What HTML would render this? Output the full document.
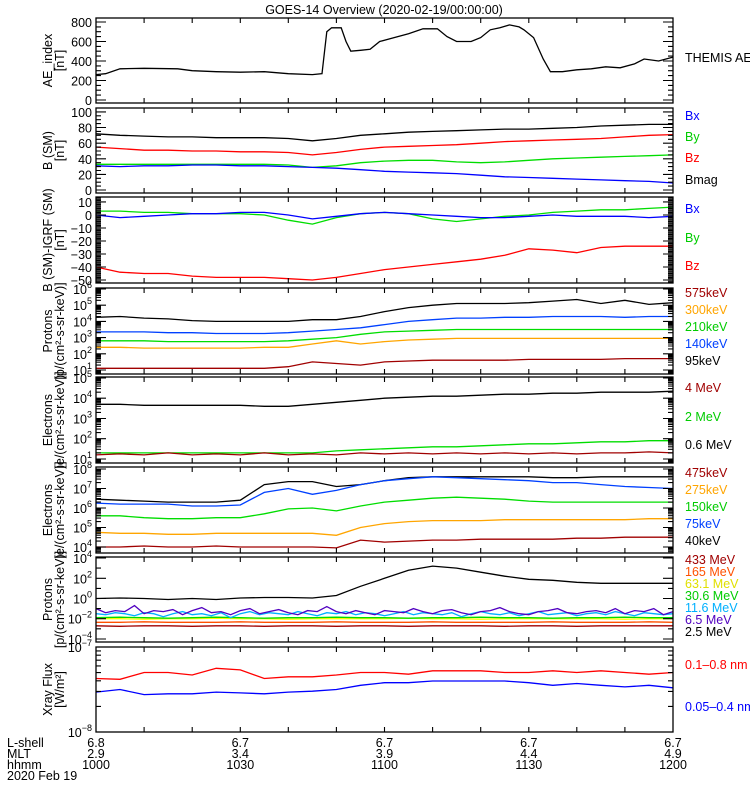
<!DOCTYPE html>
<html><head><meta charset="utf-8">
<style>
html,body{margin:0;padding:0;background:#fff;}
svg{display:block;font-family:"Liberation Sans",sans-serif;}
text{font-size:12.5px;}
</style></head>
<body>
<svg id="chart" width="750" height="800" viewBox="0 0 750 800" xmlns="http://www.w3.org/2000/svg">
<text x="384" y="14" text-anchor="middle" font-size="13">GOES-14 Overview (2020-02-19/00:00:00)</text>
<g>
<text x="7" y="747">L-shell</text><text x="7" y="758">MLT</text><text x="7" y="769">hhmm</text><text x="7" y="780">2020 Feb 19</text>
</g>
</svg>
<script>
// ---- time axis data ----
const xTickTimes = [0, 30, 60, 90, 120];
const lshellLabels = ["6.8", "6.7", "6.7", "6.7", "6.7"];
const mltLabels = ["2.9", "3.4", "3.9", "4.4", "4.9"];
const hhmmLabels = ["1000", "1030", "1100", "1130", "1200"];
const grid5 = [0,5,10,15,20,25,30,35,40,45,50,55,60,65,70,75,80,85,90,95,100,105,110,115,120];
const grid2 = [0,2,4,6,8,10,12,14,16,18,20,22,24,26,28,30,32,34,36,38,40,42,44,46,48,50,52,54,56,58,60,62,64,66,68,70,72,74,76,78,80,82,84,86,88,90,92,94,96,98,100,102,104,106,108,110,112,114,116,118,120];

// Panel 1: AE index
const aeTimes = [0,2,5,10,17,20,25,30,35,40,45,47,48,49,51,52,53,55,57,59,62,65,68,71,73,75,78,80,82,84,86,88,89,91,93,94.5,97,100,103,106,109,112,114,117,120];
const aeValues = [260,270,320,325,320,300,290,285,290,270,260,270,700,740,740,600,500,510,520,600,640,680,730,730,650,600,600,640,720,740,770,750,720,640,420,290,290,310,320,340,330,370,420,400,440];

// Panel 2: B (SM)
const bmag = [72,70,69,68,68,67,67,67,66,63,66,70,72,74,75,76,77,78,78,79,80,82,83,84,84];
const bz2 = [55,53,51,51,50,50,49,49,48,45,48,52,55,56,57,58,60,62,63,64,65,66,68,70,71];
const by2 = [33,33,33,33,33,33,33,33,32,29,31,35,37,38,38,36,35,36,38,40,41,42,43,44,45];
const bx2 = [31,30,31,31,32,32,31,31,30,29,28,26,24,23,22,21,19,17,16,15,14,13,12,11,9];

// Panel 3: B (SM) - IGRF
const by3 = [3,3,2,2,1,1,1,0,-4,-7,-2,1,2,1,-3,-5,-3,-1,0,2,3,4,4,5,6];
const bx3 = [0,-2,-1,0,1,1,2,2,0,-3,-1,1,2,1,0,-1,-2,-2,-1,0,-1,-1,-1,-2,-1];
const bz3 = [-40,-44,-45,-45,-47,-48,-48,-48,-49,-50,-48,-45,-42,-40,-38,-36,-34,-31,-26,-27,-29,-25,-24,-24,-24];

// Panel 4: protons (log10)
const p95 = [4.25,4.3,4.2,4.15,4.05,4.0,4.0,4.0,4.0,4.1,4.1,4.3,4.6,4.85,5.0,5.1,5.1,5.1,5.15,5.25,5.35,5.1,5.3,5.05,5.15];
const p140 = [3.35,3.35,3.35,3.3,3.3,3.25,3.25,3.25,3.3,3.4,3.5,3.6,3.8,4.0,4.1,4.2,4.2,4.25,4.25,4.3,4.3,4.3,4.25,4.3,4.3];
const p210 = [2.8,2.8,2.8,2.75,2.75,2.75,2.75,2.75,2.8,2.9,3.0,3.2,3.35,3.4,3.45,3.5,3.5,3.5,3.5,3.5,3.5,3.5,3.5,3.5,3.5];
const p300 = [2.4,2.4,2.35,2.35,2.35,2.35,2.35,2.4,2.4,2.6,2.8,2.6,2.75,2.85,2.9,2.95,2.95,2.95,2.95,2.95,2.95,2.95,2.95,2.95,2.95];
const p575 = [1.1,1.1,1.1,1.1,1.1,1.1,1.1,1.1,1.2,1.5,1.4,1.3,1.5,1.55,1.6,1.6,1.6,1.6,1.65,1.65,1.65,1.65,1.7,1.7,1.7];

// Panel 5: electrons MeV (log10)
const e06 = [3.7,3.7,3.65,3.65,3.65,3.65,3.65,3.6,3.6,3.7,3.8,3.9,4.0,4.05,4.1,4.1,4.15,4.2,4.2,4.25,4.25,4.3,4.3,4.3,4.35];
const e2 = [1.3,1.3,1.3,1.3,1.3,1.3,1.3,1.3,1.3,1.3,1.4,1.45,1.5,1.55,1.6,1.6,1.65,1.7,1.75,1.75,1.8,1.85,1.85,1.9,1.9];
const e4 = [1.2,1.25,1.2,1.3,1.2,1.25,1.2,1.3,1.2,1.25,1.2,1.3,1.25,1.3,1.25,1.3,1.25,1.3,1.25,1.3,1.25,1.3,1.3,1.35,1.3];

// Panel 6: electrons keV (log10)
const e40 = [6.45,6.4,6.35,6.3,6.3,6.3,6.4,7.2,7.35,7.35,7.1,7.2,7.4,7.55,7.6,7.6,7.6,7.6,7.6,7.55,7.55,7.6,7.6,7.6,7.6];
const e75 = [6.25,6.2,6.2,6.2,6.1,6.1,6.15,6.8,7.0,6.7,6.9,7.2,7.4,7.5,7.6,7.55,7.5,7.45,7.4,7.3,7.3,7.2,7.1,7.05,7.0];
const e150 = [5.6,5.6,5.5,5.45,5.45,5.5,5.5,5.7,5.95,6.0,5.85,6.1,6.3,6.4,6.5,6.55,6.5,6.45,6.35,6.3,6.3,6.3,6.3,6.3,6.3];
const e275 = [4.75,4.7,4.7,4.65,4.65,4.7,4.7,4.7,4.7,4.7,4.6,5.0,5.2,5.3,5.35,5.35,5.35,5.4,5.4,5.4,5.4,5.4,5.4,5.45,5.45];
const e475 = [4.0,4.0,4.05,4.0,4.0,4.05,4.0,4.0,4.0,4.0,3.95,4.35,4.25,4.3,4.35,4.35,4.4,4.4,4.4,4.4,4.45,4.45,4.5,4.5,4.5];

// Panel 7: high-energy protons (log10)
const hp25 = [0,0.05,0,-0.1,0,-0.1,0.05,0.1,0.1,0.05,0.3,1.2,2.0,2.8,3.2,3.0,2.6,2.2,1.9,1.8,1.6,1.5,1.5,1.5,1.5];
const hp65 = [-1.0,-1.4,-1.2,-1.3,-0.7,-1.5,-1.2,-1.3,-1.1,-1.6,-1.2,-0.9,-1.4,-1.3,-1.6,-1.2,-1.0,-1.5,-1.3,-1.1,-1.4,-1.6,-1.2,-1.3,-0.8,-1.3,-1.5,-1.2,-1.4,-1.6,-1.2,-1.3,-1.4,-1.0,-1.3,-1.5,-1.2,-1.1,-1.4,-1.6,-1.3,-1.2,-0.9,-1.3,-1.5,-1.6,-1.3,-1.2,-1.0,-1.4,-1.5,-1.3,-1.2,-1.4,-1.0,-1.5,-1.2,-1.3,-1.0,-1.6,-1.3];
const hp116 = [-1.5,-1.6,-1.4,-1.5,-1.7,-1.4,-1.5,-1.8,-1.5,-1.3,-1.6,-1.5,-1.7,-1.4,-1.9,-1.5,-1.3,-1.6,-1.4,-1.5,-1.6,-1.3,-1.5,-1.7,-1.4,-1.5,-1.3,-1.6,-1.4,-1.5,-1.7,-1.5,-1.3,-1.6,-1.4,-1.5,-1.6,-1.4,-1.8,-1.5,-1.3,-1.5,-1.6,-1.4,-1.7,-1.5,-1.3,-1.6,-1.5,-1.4,-1.7,-1.5,-1.4,-1.6,-1.3,-1.5,-1.7,-1.4,-1.5,-1.6,-1.5];
const hp306 = [-1.9,-1.85,-1.9,-1.95,-1.9,-1.85,-1.9,-1.95,-1.9,-1.9,-1.85,-1.9,-1.9,-1.95,-1.9,-1.9,-1.85,-1.9,-1.9,-1.95,-1.9,-1.9,-1.85,-1.9,-1.9];
const hp631 = [-2.0,-2.0,-2.05,-2.0,-2.0,-1.95,-2.0,-2.0,-2.05,-2.0,-2.0,-2.0,-2.0,-1.95,-2.0,-2.0,-2.05,-2.0,-2.0,-2.0,-2.0,-2.0,-2.05,-2.0,-2.0];
const hp165 = [-2.35,-2.35,-2.3,-2.35,-2.35,-2.35,-2.3,-2.35,-2.35,-2.35,-2.3,-2.35,-2.35,-2.35,-2.3,-2.35,-2.35,-2.35,-2.35,-2.3,-2.35,-2.35,-2.35,-2.3,-2.35];
const hp433 = [-2.7,-2.75,-2.7,-2.7,-2.75,-2.7,-2.7,-2.75,-2.7,-2.7,-2.75,-2.7,-2.7,-2.75,-2.7,-2.7,-2.7,-2.75,-2.7,-2.7,-2.75,-2.7,-2.7,-2.7,-2.7];

// Panel 8: X-ray flux (log10)
const xrLong = [-7.37,-7.38,-7.3,-7.3,-7.33,-7.25,-7.27,-7.37,-7.35,-7.35,-7.33,-7.3,-7.3,-7.32,-7.28,-7.28,-7.28,-7.3,-7.3,-7.28,-7.3,-7.28,-7.3,-7.32,-7.3];
const xrShort = [-7.53,-7.5,-7.56,-7.55,-7.55,-7.53,-7.54,-7.55,-7.53,-7.52,-7.5,-7.45,-7.42,-7.42,-7.4,-7.4,-7.4,-7.4,-7.42,-7.45,-7.43,-7.45,-7.47,-7.45,-7.48];

const X0 = 96, X1 = 673, TMAX = 120;
function xOf(t){ return X0 + t / TMAX * (X1 - X0); }
const svg = document.getElementById('chart');
const NS = 'http://www.w3.org/2000/svg';
function mk(tag, attrs){ const e = document.createElementNS(NS, tag); for (const k in attrs) e.setAttribute(k, attrs[k]); return e; }

const panels = [
 {key:'ae', top:18, bot:103, log:false, min:-31, max:841, t1:['AE_index','[nT]'],
  major:[0,200,400,600,800], minorStep:50,
  series:[{name:'ae-index-line', t:aeTimes, v:aeValues, c:'#000'}],
  labels:[{s:'THEMIS AE', y:62, c:'#000'}]},
 {key:'bsm', top:108, bot:193, log:false, min:-3.8, max:105, t1:['B (SM)','[nT]'],
  major:[0,20,40,60,80,100], minorStep:5,
  series:[{name:'bmag-line',t:grid5,v:bmag,c:'#000'},{name:'bz-line',t:grid5,v:bz2,c:'#f00'},{name:'by-line',t:grid5,v:by2,c:'#0d0'},{name:'bx-line',t:grid5,v:bx2,c:'#00f'}],
  labels:[{s:'Bx',y:120,c:'#00f'},{s:'By',y:141,c:'#0c0'},{s:'Bz',y:162,c:'#f00'},{s:'Bmag',y:184,c:'#000'}]},
 {key:'bigrf', top:197, bot:283, log:false, min:-52.3, max:13.8, t1:['B (SM)-IGRF (SM)','[nT]'],
  major:[10,0,-10,-20,-30,-40,-50], minorStep:1,
  series:[{name:'bz-igrf-line',t:grid5,v:bz3,c:'#f00'},{name:'by-igrf-line',t:grid5,v:by3,c:'#0d0'},{name:'bx-igrf-line',t:grid5,v:bx3,c:'#00f'}],
  labels:[{s:'Bx',y:213,c:'#00f'},{s:'By',y:242,c:'#0c0'},{s:'Bz',y:270,c:'#f00'}]},
 {key:'prot', top:288, bot:374, log:true, min:0.75, max:6.06, t1:['Protons','[p/(cm\u00b2-s-sr-keV)]'],
  major:[1,2,3,4,5,6],
  series:[{name:'proton-95kev-line',t:grid5,v:p95,c:'#000'},{name:'proton-140kev-line',t:grid5,v:p140,c:'#0040ff'},{name:'proton-210kev-line',t:grid5,v:p210,c:'#0d0'},{name:'proton-300kev-line',t:grid5,v:p300,c:'#ffa500'},{name:'proton-575kev-line',t:grid5,v:p575,c:'#a00000'}],
  labels:[{s:'575keV',y:297,c:'#a00000'},{s:'300keV',y:314,c:'#ffa500'},{s:'210keV',y:331,c:'#0c0'},{s:'140keV',y:348,c:'#0040ff'},{s:'95keV',y:365,c:'#000'}]},
 {key:'elmev', top:377, bot:463, log:true, min:0.8, max:5.05, t1:['Electrons','[e/(cm\u00b2-s-sr-keV)]'],
  major:[1,2,3,4,5],
  series:[{name:'electron-0.6mev-line',t:grid5,v:e06,c:'#000'},{name:'electron-2mev-line',t:grid5,v:e2,c:'#0d0'},{name:'electron-4mev-line',t:grid5,v:e4,c:'#a00000'}],
  labels:[{s:'4 MeV',y:392,c:'#a00000'},{s:'2 MeV',y:421,c:'#0c0'},{s:'0.6 MeV',y:449,c:'#000'}]},
 {key:'elkev', top:467, bot:553, log:true, min:3.69, max:8.1, t1:['Electrons','[e/(cm\u00b2-s-sr-keV)]'],
  major:[4,5,6,7,8],
  series:[{name:'electron-40kev-line',t:grid5,v:e40,c:'#000'},{name:'electron-75kev-line',t:grid5,v:e75,c:'#0040ff'},{name:'electron-150kev-line',t:grid5,v:e150,c:'#0d0'},{name:'electron-275kev-line',t:grid5,v:e275,c:'#ffa500'},{name:'electron-475kev-line',t:grid5,v:e475,c:'#a00000'}],
  labels:[{s:'475keV',y:477,c:'#a00000'},{s:'275keV',y:494,c:'#ffa500'},{s:'150keV',y:511,c:'#0c0'},{s:'75keV',y:528,c:'#0040ff'},{s:'40keV',y:545,c:'#000'}]},
 {key:'hprot', top:557, bot:642, log:true, min:-4.3, max:4.1, t1:['Protons','[p/(cm\u00b2-s-sr-keV)]'],
  major:[-4,-2,0,2,4], logStep:2,
  series:[{name:'proton-2.5mev-line',t:grid5,v:hp25,c:'#000'},{name:'proton-433mev-line',t:grid5,v:hp433,c:'#a00000'},{name:'proton-165mev-line',t:grid5,v:hp165,c:'#ff5000'},{name:'proton-63.1mev-line',t:grid5,v:hp631,c:'#ffff00'},{name:'proton-30.6mev-line',t:grid5,v:hp306,c:'#0d0'},{name:'proton-11.6mev-line',t:grid2,v:hp116,c:'#00b0ff'},{name:'proton-6.5mev-line',t:grid2,v:hp65,c:'#5000c0'}],
  labels:[{s:'433 MeV',y:564,c:'#a00000'},{s:'165 MeV',y:576,c:'#ff5000'},{s:'63.1 MeV',y:588,c:'#e0e000'},{s:'30.6 MeV',y:600,c:'#0c0'},{s:'11.6 MeV',y:612,c:'#00b0ff'},{s:'6.5 MeV',y:624,c:'#5000c0'},{s:'2.5 MeV',y:636,c:'#000'}]},
 {key:'xray', top:647, bot:732, log:true, min:-8, max:-7, t1:['Xray Flux','[W/m\u00b2]'],
  major:[-8,-7],
  series:[{name:'xray-long-line',t:grid5,v:xrLong,c:'#f00'},{name:'xray-short-line',t:grid5,v:xrShort,c:'#00f'}],
  labels:[{s:'0.1\u20130.8 nm',y:669,c:'#f00'},{s:'0.05\u20130.4 nm',y:711,c:'#00f'}]}
];

panels.forEach(p => {
  const yOf = v => p.bot - (v - p.min) / (p.max - p.min) * (p.bot - p.top);
  const g = mk('g', {});
  
  
  svg.appendChild(g);
  // series
  p.series.forEach(s => {
    const d = s.t.map((t, i) => (i ? 'L' : 'M') + xOf(t).toFixed(1) + ',' + yOf(s.v[i]).toFixed(1)).join('');
    const path = mk('path', {d: d, fill: 'none', stroke: s.c, 'stroke-width': 1.3});
    
    
    g.appendChild(path);
  });
  // frame
  const fr = mk('rect', {x: X0, y: p.top, width: X1 - X0, height: p.bot - p.top, fill: 'none', stroke: '#000', 'stroke-width': 1.3});
  
  
  g.appendChild(fr);
  // x ticks (every 10 min)
  let td = '';
  for (let t = 10; t < TMAX; t += 10) {
    const x = xOf(t).toFixed(1);
    td += 'M' + x + ',' + p.bot + 'v-5M' + x + ',' + p.top + 'v5';
  }
  // y ticks
  const yt = [];
  if (!p.log) {
    for (let v = Math.ceil(p.min / p.minorStep) * p.minorStep; v <= p.max; v += p.minorStep) {
      const maj = p.major.indexOf(v) >= 0;
      yt.push([yOf(v), maj ? 10 : 5]);
    }
  } else {
    const step = p.logStep || 1;
    for (let e = Math.floor(p.min) - 1; e <= Math.ceil(p.max); e++) {
      for (let m = 1; m < 10; m++) {
        const v = e + Math.log10(m);
        if (v < p.min || v > p.max) continue;
        const maj = (m === 1 && p.major.indexOf(e) >= 0);
        if (step === 2 && m !== 1) continue;
        yt.push([yOf(v), maj ? 10 : 5]);
      }
    }
  }
  yt.forEach(([y, L]) => {
    td += 'M' + X0 + ',' + y.toFixed(1) + 'h' + L + 'M' + X1 + ',' + y.toFixed(1) + 'h-' + L;
  });
  const ticks = mk('path', {d: td, stroke: '#000', 'stroke-width': 1.1, fill: 'none'});
  
  
  g.appendChild(ticks);
  // y tick labels
  p.major.forEach(v => {
    const tx = mk('text', {x: 92, y: (yOf(v) + 5).toFixed(1), 'text-anchor': 'end', 'font-size': 13});
    
    
    if (p.log) {
      tx.textContent = '10';
      const sup = mk('tspan', {dy: -6, 'font-size': 9});
      sup.textContent = String(v).replace('-', '\u2212');
      tx.appendChild(sup);
    } else {
      tx.textContent = String(v).replace('-', '\u2212');
    }
    g.appendChild(tx);
  });
  // y title
  const cy = (p.top + p.bot) / 2;
  p.t1.forEach((line, i) => {
    const x = 52 + i * 12;
    const tt = mk('text', {x: x, y: cy, 'text-anchor': 'middle', 'font-size': 12, transform: 'rotate(-90 ' + x + ' ' + cy + ')'});
    
    
    tt.textContent = line;
    g.appendChild(tt);
  });
  // right labels
  p.labels.forEach(l => {
    const lt = mk('text', {x: 685, y: l.y, fill: l.c, 'font-size': 12});
    
    
    lt.textContent = l.s;
    g.appendChild(lt);
  });
});

// bottom x labels
xTickTimes.forEach((t, i) => {
  [lshellLabels[i], mltLabels[i], hhmmLabels[i]].forEach((s, r) => {
    const tx = mk('text', {x: xOf(t).toFixed(1), y: 747 + r * 11, 'text-anchor': 'middle'});
    
    
    tx.textContent = s;
    svg.appendChild(tx);
  });
});
</script>
</body></html>
